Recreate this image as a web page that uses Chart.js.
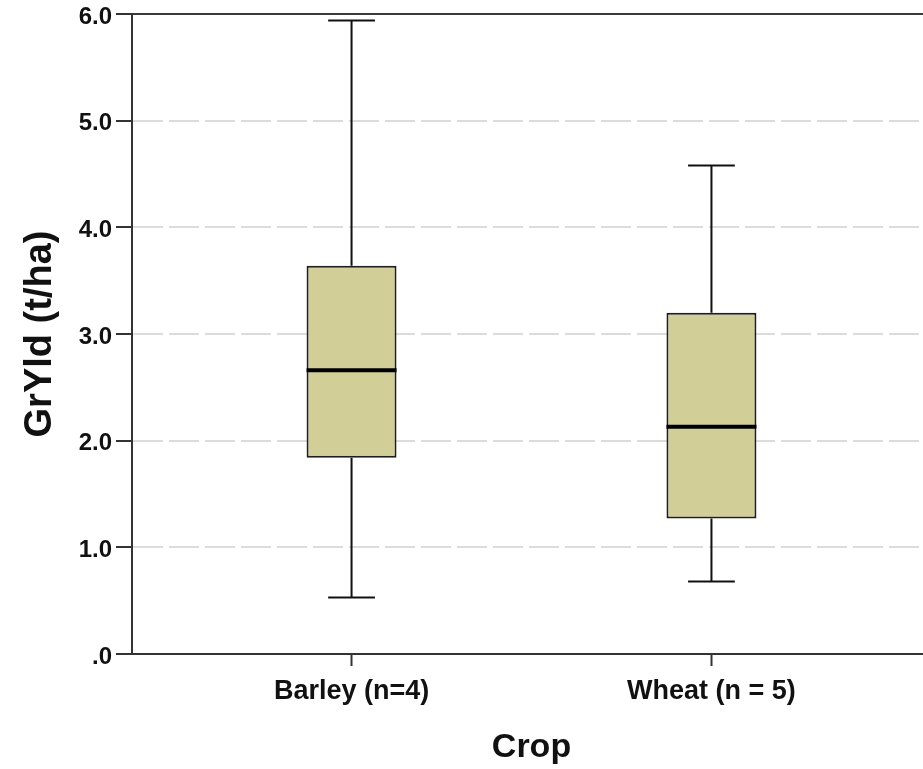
<!DOCTYPE html>
<html lang="en">

<head>
    <meta charset="UTF-8">
    <meta name="viewport" content="width=device-width, initial-scale=1.0">
    <title>GrYld by Crop</title>
    <script src="https://cdn.jsdelivr.net/npm/chart.js"></script>
    <style>
        body {
            background-color: #ffffff;
            margin: 0;
            padding: 0;
            overflow: hidden;
        }

        #wrap {
            /* a bit wider than the window so the plot frame runs off the right edge */
            width: 940px;
            height: 769px;
        }
    </style>
</head>

<body>
    <div id="wrap"><canvas id="boxChart"></canvas></div>

    <script>
        // box plot summary per crop (t/ha)
        const crops = ['Barley (n=4)', 'Wheat (n = 5)'];
        const positions = [1, 2];
        const whiskerLow = [0.53, 0.68];
        const q1 = [1.84, 1.27];
        const median = [2.66, 2.13];
        const q3 = [3.64, 3.20];
        const whiskerHigh = [5.94, 4.58];
        const yTicks = [0, 1, 2, 3, 4, 5, 6];

        const boxFill = '#d2ce97';
        const ink = '#111111';
        const capWidth = 0.13; // in x-axis units

        // whiskers go under the boxes, medians on top
        const boxWhiskers = {
            id: 'boxWhiskers',
            beforeDatasetsDraw(chart) {
                const { ctx, scales: { x, y } } = chart;
                ctx.save();
                ctx.strokeStyle = ink;
                ctx.lineWidth = 2;
                ctx.lineCap = 'butt';
                positions.forEach((p, i) => {
                    const cx = x.getPixelForValue(p);
                    const x0 = x.getPixelForValue(p - capWidth / 2);
                    const x1 = x.getPixelForValue(p + capWidth / 2);
                    const yLo = y.getPixelForValue(whiskerLow[i]);
                    const yHi = y.getPixelForValue(whiskerHigh[i]);
                    ctx.beginPath();
                    ctx.moveTo(cx, yLo);
                    ctx.lineTo(cx, y.getPixelForValue(q1[i]));
                    ctx.moveTo(cx, y.getPixelForValue(q3[i]));
                    ctx.lineTo(cx, yHi);
                    ctx.moveTo(x0, yLo);
                    ctx.lineTo(x1, yLo);
                    ctx.moveTo(x0, yHi);
                    ctx.lineTo(x1, yHi);
                    ctx.stroke();
                });
                ctx.restore();
            },
            afterDatasetsDraw(chart) {
                const { ctx, scales: { y } } = chart;
                const bars = chart.getDatasetMeta(0).data;
                ctx.save();
                ctx.strokeStyle = '#000000';
                ctx.lineWidth = 4;
                bars.forEach((bar, i) => {
                    const my = y.getPixelForValue(median[i]);
                    ctx.beginPath();
                    ctx.moveTo(bar.x - bar.width / 2, my);
                    ctx.lineTo(bar.x + bar.width / 2, my);
                    ctx.stroke();
                });
                ctx.restore();
            }
        };

        const ctx = document.getElementById('boxChart').getContext('2d');

        new Chart(ctx, {
            type: 'bar',
            data: {
                datasets: [{
                    label: 'GrYld',
                    data: positions.map((p, i) => ({ x: p, y: [q1[i], q3[i]] })),
                    backgroundColor: boxFill,
                    borderColor: '#1e1e1e',
                    borderWidth: 2,
                    borderSkipped: false,
                    barPercentage: 0.25,
                    categoryPercentage: 1
                }]
            },
            options: {
                responsive: true,
                maintainAspectRatio: false,
                animation: false,
                layout: { padding: { top: 14, right: 9, left: 0, bottom: 0 } },
                plugins: {
                    legend: { display: false },
                    tooltip: { enabled: false }
                },
                scales: {
                    x: {
                        type: 'linear',
                        offset: false,
                        min: 0.39,
                        max: 2.61,
                        afterFit: scale => { scale.height = 115; },
                        afterBuildTicks: scale => { scale.ticks = positions.map(v => ({ value: v })); },
                        ticks: {
                            color: '#111111',
                            padding: 9,
                            font: { family: 'Liberation Sans, Arial, sans-serif', size: 27, weight: 'bold' },
                            callback: v => crops[positions.indexOf(v)]
                        },
                        grid: { offset: false, drawOnChartArea: false, tickLength: 12, tickColor: '#333333', tickWidth: 2 },
                        border: { color: '#333333', width: 2 },
                        title: {
                            display: true,
                            text: 'Crop',
                            color: '#111111',
                            padding: { top: 0, bottom: 1 },
                            font: { family: 'Liberation Sans, Arial, sans-serif', size: 34, weight: 'bold' }
                        }
                    },
                    y: {
                        min: 0,
                        max: 6,
                        afterFit: scale => {
                            scale.width = 132;
                            // let the layout padding alone decide where the frame top sits
                            scale.paddingTop = 0;
                            scale.paddingBottom = 0;
                        },
                        afterBuildTicks: scale => { scale.ticks = yTicks.map(v => ({ value: v })); },
                        ticks: {
                            color: '#111111',
                            padding: 4,
                            labelOffset: 3,
                            font: { family: 'Liberation Sans, Arial, sans-serif', size: 24, weight: 'bold' },
                            callback: v => (v === 0 ? '.0' : v.toFixed(1))
                        },
                        grid: {
                            color: c => (c.tick && c.tick.value === 6 ? '#3a3a3a' : (c.tick && c.tick.value === 0 ? 'rgba(0,0,0,0)' : '#dcdcdc')),
                            lineWidth: 2,
                            tickLength: 16,
                            tickColor: '#333333',
                            tickWidth: 2
                        },
                        border: {
                            color: '#333333',
                            width: 2,
                            dash: c => (c.tick && c.tick.value > 0 && c.tick.value < 6 ? [30, 6] : [])
                        },
                        title: {
                            display: true,
                            text: 'GrYld (t/ha)',
                            color: '#111111',
                            padding: { top: 18, bottom: 0 },
                            font: { family: 'Liberation Sans, Arial, sans-serif', size: 38, weight: 'bold' }
                        }
                    }
                }
            },
            plugins: [boxWhiskers]
        });
    </script>
</body>

</html>
